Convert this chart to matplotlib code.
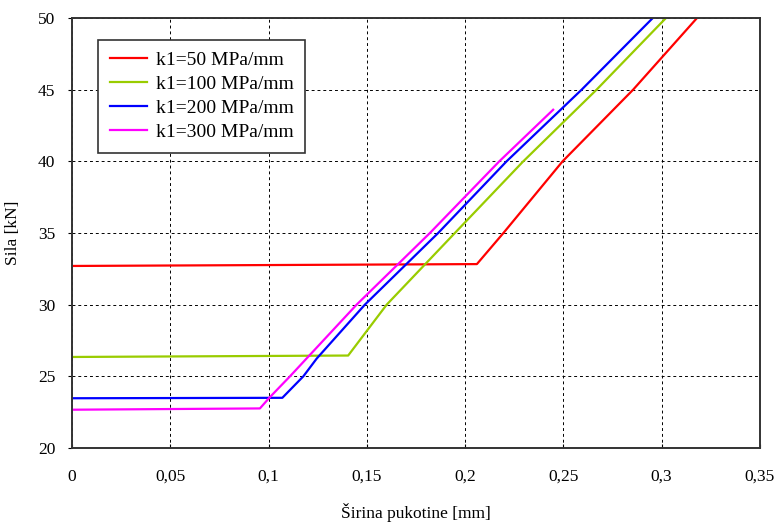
import numpy as np
import matplotlib.pyplot as plt

plt.rcParams['font.family'] = ['Liberation Serif', 'DejaVu Serif']

# Crack width (mm) vs force (kN)
x_50 = [0.0, 0.206, 0.2195, 0.2496, 0.2855, 0.318]
y_50 = [32.7, 32.83, 35.0, 40.0, 45.0, 50.0]

x_100 = [0.0, 0.1405, 0.1601, 0.1948, 0.2296, 0.2669, 0.3022]
y_100 = [26.35, 26.45, 30.0, 35.0, 40.0, 45.0, 50.0]

x_200 = [0.0, 0.107, 0.1177, 0.1245, 0.149, 0.1863, 0.2211, 0.2593, 0.2955]
y_200 = [23.47, 23.5, 25.0, 26.24, 30.0, 35.0, 40.0, 45.0, 50.0]

x_300 = [0.0, 0.0956, 0.1007, 0.1109, 0.1448, 0.1821, 0.2174, 0.2448]
y_300 = [22.67, 22.76, 23.55, 25.0, 30.0, 35.0, 40.0, 43.6]

labels = ['k1=50 MPa/mm', 'k1=100 MPa/mm', 'k1=200 MPa/mm', 'k1=300 MPa/mm']
colors = ['#ff0000', '#99cc00', '#0000ff', '#ff00ff']

xticks = [0, 0.05, 0.1, 0.15, 0.2, 0.25, 0.3, 0.35]
xtick_labels = ['0', '0,05', '0,1', '0,15', '0,2', '0,25', '0,3', '0,35']
yticks = [20, 25, 30, 35, 40, 45, 50]

fig = plt.figure(figsize=(7.77, 5.25), dpi=100)
ax = fig.add_axes([0.0927, 0.1467, 0.8853, 0.819])

series = [(x_50, y_50), (x_100, y_100), (x_200, y_200), (x_300, y_300)]
for (xs, ys), lab, c in zip(series, labels, colors):
    ax.plot(xs, ys, color=c, lw=1.6, label=lab)

ax.set_xlim(0, 0.35)
ax.set_ylim(20, 50)
ax.set_xticks(xticks)
ax.set_xticklabels(xtick_labels)
ax.set_yticks(yticks)
ax.tick_params(axis='x', direction='in', length=3, pad=15, labelsize=12.5)
ax.tick_params(axis='y', direction='out', length=3, pad=9, labelsize=12.5)
ax.grid(True, color='black', linestyle=(0, (3, 3)), linewidth=0.7)

for s in ax.spines.values():
    s.set_color('#333333')
    s.set_linewidth(1.4)

ax.set_xlabel('Širina pukotine [mm]', fontsize=12.5, labelpad=13)
ax.set_ylabel('Sila [kN]', fontsize=12.5, labelpad=12)

leg = ax.legend(loc='upper left', bbox_to_anchor=(0.038, 0.95), fontsize=14,
                fancybox=False, shadow=False, framealpha=1, edgecolor='#333333',
                handlelength=1.9, handletextpad=0.45, borderpad=0.6,
                labelspacing=0.33, borderaxespad=0)
leg.get_frame().set_linewidth(1.2)

fig.savefig('out.png', dpi=100)
